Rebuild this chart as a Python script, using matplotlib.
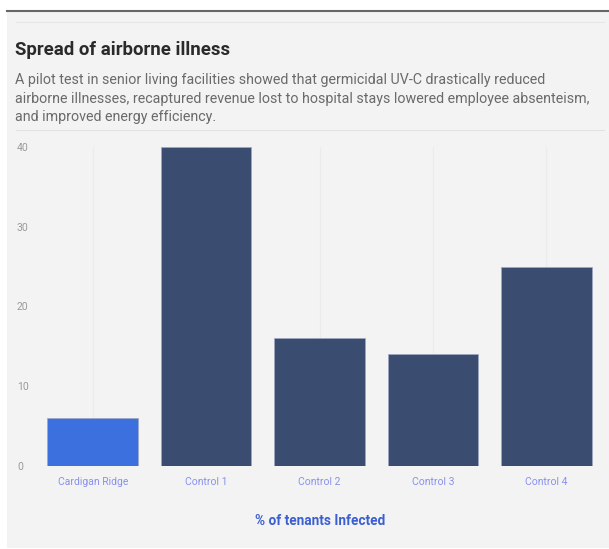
import matplotlib
matplotlib.use("Agg")
import matplotlib.pyplot as plt
from matplotlib.lines import Line2D
from matplotlib.patches import Rectangle

categories = ["Cardigan Ridge", "Control 1", "Control 2", "Control 3", "Control 4"]
values = [6, 40, 16, 14, 25]
bar_colors = ["#3d70df", "#3b4c71", "#3b4c71", "#3b4c71", "#3b4c71"]
yticks = [0, 10, 20, 30, 40]

title = "Spread of airborne illness"
subtitle_lines = [
    "A pilot test in senior living facilities showed that germicidal UV-C drastically reduced",
    "airborne illnesses, recaptured revenue lost to hospital stays lowered employee absenteism,",
    "and improved energy efficiency.",
]
xlabel = "% of tenants Infected"

W, H = 609, 549
fig = plt.figure(figsize=(W / 100, H / 100), dpi=100)
fig.patch.set_facecolor("white")

def fx(px):
    return px / W

def fy(py):
    return 1 - py / H

# panel background
fig.add_artist(Rectangle((fx(7), fy(548)), fx(609 - 7), (548 - 11) / H,
                         transform=fig.transFigure, facecolor="#f3f3f3", edgecolor="none", zorder=0))
fig.add_artist(Line2D([fx(7), 1], [fy(11), fy(11)], transform=fig.transFigure, color="#666666", lw=1.5))
fig.add_artist(Line2D([fx(16), fx(604)], [fy(22), fy(22)], transform=fig.transFigure, color="#e6e6e6", lw=0.8))
fig.add_artist(Line2D([fx(16), fx(604)], [fy(130), fy(130)], transform=fig.transFigure, color="#e2e2e2", lw=0.8))

fig.text(fx(15), fy(50), title, fontsize=13.4, fontweight="bold", color="#2a2a2a",
         family="Roboto", va="center", ha="left")
for i, line in enumerate(subtitle_lines):
    fig.text(fx(15), fy(80 + i * 18.5), line, fontsize=10.3, color="#6a6a6a",
             family="Roboto", va="center", ha="left")

ax = fig.add_axes([fx(36), fy(466), fx(603 - 36), (466 - 147) / H])
ax.set_facecolor("none")
x = list(range(len(categories)))
ax.bar(x, values, width=0.8, color=bar_colors, edgecolor="#a0a8c0", linewidth=0.5, zorder=3)
ax.set_xlim(-0.5, len(categories) - 0.5)
ax.set_ylim(0, 40)
ax.set_yticks(yticks)
ax.set_xticks(x)
ax.set_xticklabels(categories)
for s in ax.spines.values():
    s.set_visible(False)
ax.grid(axis="x", color="#ebebeb", lw=0.8, zorder=0)
ax.axhline(0, color="#ebebeb", lw=0.8, zorder=1)
ax.tick_params(axis="both", length=0)
ax.tick_params(axis="y", labelsize=7.5, labelcolor="#9a9a9a", pad=13.7)
ax.tick_params(axis="x", labelsize=7.5, labelcolor="#8a90ee", pad=8)
for lab in ax.get_xticklabels() + ax.get_yticklabels():
    lab.set_family("Roboto")
for lab in ax.get_yticklabels():
    lab.set_ha("left")

fig.text(fx(320), fy(521), xlabel, fontsize=9.8, fontweight="bold", color="#3b5fd0",
         family="Roboto", ha="center", va="center")

fig.savefig("out.png", dpi=100, facecolor=fig.get_facecolor())
